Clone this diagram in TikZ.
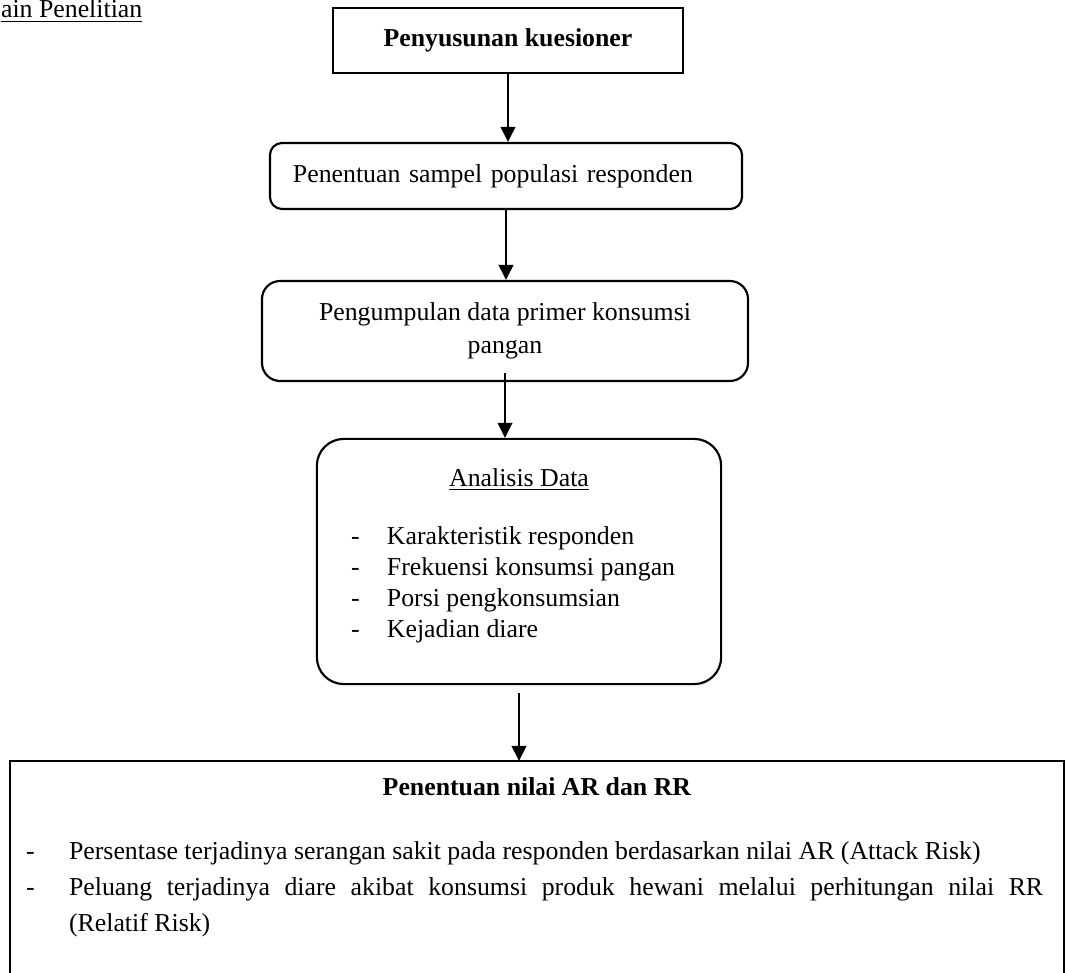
\documentclass[tikz,border=0pt]{standalone}
\usepackage{fontspec}
\setmainfont{Liberation Serif}
\usepackage{tikz}
\usetikzlibrary{arrows.meta,positioning}

\begin{document}
\begin{tikzpicture}[x=0.465pt,y=-0.465pt,->,>={Triangle[length=7pt,width=6.8pt]},
                    line width=1pt,font=\fontsize{12}{14.4}\selectfont]
  \tikzstyle{kotak}=[rectangle,draw=black,fill=white,line width=1pt]
  \tikzstyle{bulat}=[kotak,rounded corners=6pt]
  \tikzstyle{teks}=[inner sep=0pt]

  \useasboundingbox (0,0) rectangle (1067,973);

  \node[teks,anchor=base west] (judul) at (0,18) {\underline{ain Penelitian}};

  \node[kotak,minimum width=162.8pt,minimum height=30.2pt] (kues) at (508,40.5)
       {\textbf{Penyusunan kuesioner}};
  \node[bulat,rounded corners=5.6pt,text width=198.1pt,align=left,inner xsep=10.7pt,
        minimum height=30.7pt] (sampel) at (506,176)
       {Penentuan sampel populasi responden};
  \node[bulat,rounded corners=8.4pt,minimum width=226pt,minimum height=46.5pt,align=center,
        font=\fontsize{12}{15.3}\selectfont] (data) at (505,331)
       {Pengumpulan data primer konsumsi\\pangan};
  \node[bulat,rounded corners=12.5pt,minimum width=188pt,minimum height=114pt] (analisis)
       at (519,561.5) {};
  \node[draw=none,minimum width=489.2pt,minimum height=98.1pt] (nilai) at (537,867.5) {};

  % isi kotak analisis
  \node[teks,anchor=base] (judulA) at (519,486) {\underline{Analisis Data}};
  \node[teks,anchor=north west,align=left,font=\fontsize{12}{14.3}\selectfont] (daftarA)
       at (350,526)
       {\makebox[16.7pt][l]{-}Karakteristik responden\\
        \makebox[16.7pt][l]{-}Frekuensi konsumsi pangan\\
        \makebox[16.7pt][l]{-}Porsi pengkonsumsian\\
        \makebox[16.7pt][l]{-}Kejadian diare};

  % isi kotak nilai AR dan RR
  \node[teks,anchor=base] (judulN) at (537,795) {\textbf{Penentuan nilai AR dan RR}};
  \node[teks,anchor=north west,text width=472.9pt,align=justify,
        font=\fontsize{12}{16.74}\selectfont] (daftarN) at (25,841)
       {\noindent\hangindent=20pt\hangafter=1\makebox[20pt][l]{-}Persentase terjadinya
        serangan sakit pada responden berdasarkan nilai AR (Attack Risk)\par
        \noindent\hangindent=20pt\hangafter=1\makebox[20pt][l]{-}Peluang terjadinya diare
        akibat konsumsi produk hewani melalui perhitungan nilai RR\linebreak
        (Relatif Risk)\par};

  \draw[-] (nilai.south west) |- (nilai.north east) -- (nilai.south east);

  \draw (kues.south) -- (kues.south |- sampel.north);
  \draw (sampel.south) -- (sampel.south |- data.north);
  \draw ([yshift=4.2pt]data.south) -- (data.south |- analisis.north);
  \draw ([yshift=-3.7pt]analisis.south) -- (analisis.south |- nilai.north);
\end{tikzpicture}
\end{document}
